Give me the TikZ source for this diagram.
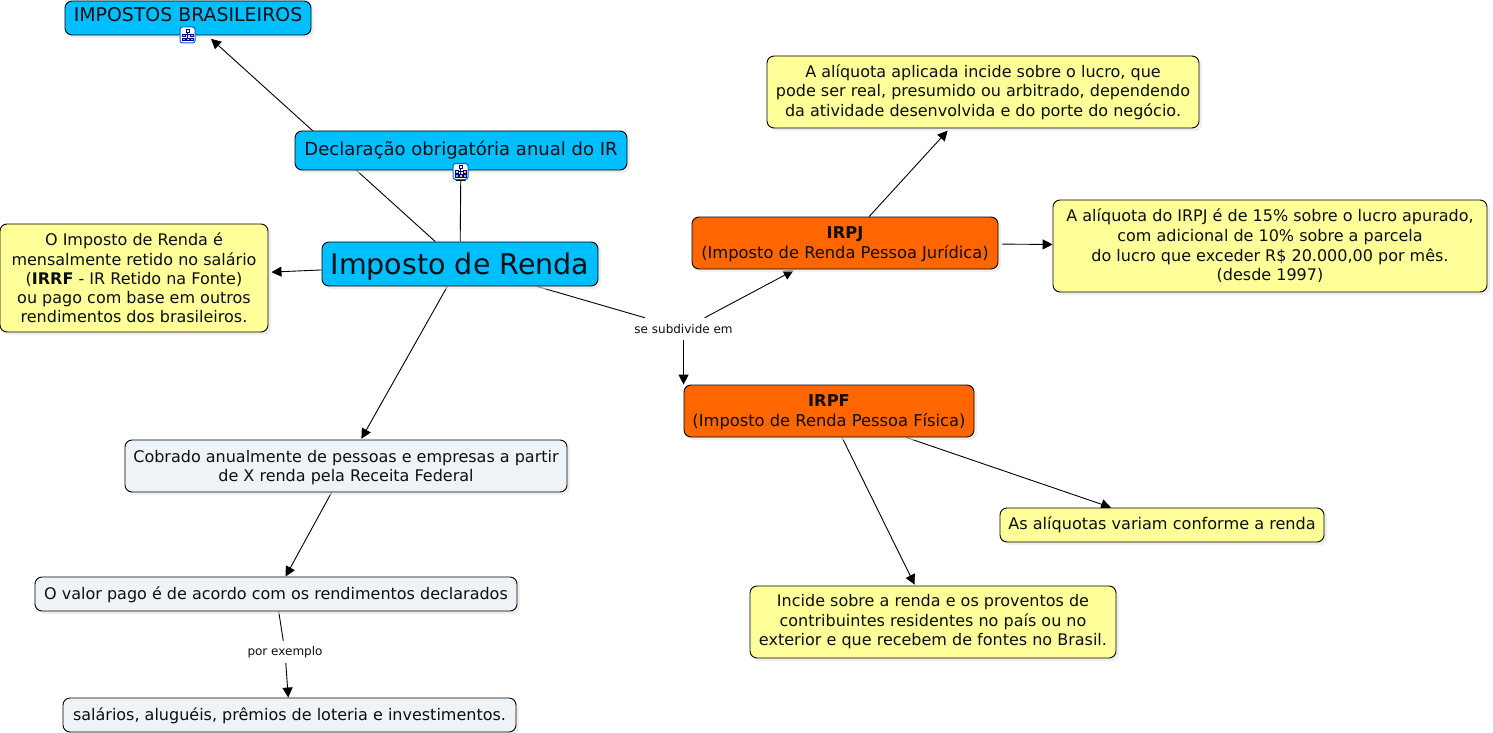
\documentclass[tikz,border=0pt]{standalone}
\usepackage{fontspec}
\setmainfont{DejaVu Sans}
\usetikzlibrary{shadows,arrows.meta}
\definecolor{cblue}{HTML}{00BFFF}
\definecolor{corange}{HTML}{FF6600}
\definecolor{cyellow}{HTML}{FFFF99}
\definecolor{cpale}{HTML}{EDF3F6}
\definecolor{ctext}{HTML}{0A1014}
\newcommand{\fs}[1]{\fontsize{#1}{#1}\selectfont}
\newcommand{\lowered}{\rule{0pt}{15pt}}
\pgfdeclarelayer{connectors}
\pgfsetlayers{connectors,main}
\tikzset{
  x=1pt,y=-1pt,
  concept/.style={draw=black,line width=0.9pt,rounded corners=7pt,align=center,inner sep=0pt,text=ctext,
    drop shadow={shadow xshift=3pt,shadow yshift=-3pt,fill=black!10,opacity=0.6}},
  blue box/.style={concept,fill=cblue},
  orange box/.style={concept,fill=corange},
  yellow box/.style={concept,fill=cyellow},
  pale box/.style={concept,fill=cpale},
  linkword/.style={fill=white,inner sep=0pt,align=center,font=\fs{12},text=ctext},
  conn/.style={line width=0.9pt,draw=black,-{Triangle[length=10pt,width=10pt]}},
  plain conn/.style={line width=0.9pt,draw=black},
  iconbox/.style={draw=blue!55!cyan!85!black,fill=white,rounded corners=2.5pt,line width=1pt,minimum width=15pt,minimum height=16pt,inner sep=0pt},
}
\newcommand{\hierarchyicon}[2]{%
  \node[iconbox] (#2) at (#1) {};
  \begin{scope}[shift={(#1)},line width=0.5pt,draw=blue!50!black]
    \draw (0,-3) -- (0,3) (-3.8,-0.5) -- (3.8,-0.5) (-3.8,-0.5)--(-3.8,2) (3.8,-0.5)--(3.8,2);
    \draw[fill=white] (-1.7,-5.8) rectangle (1.7,-3);
    \draw[fill=cblue!40] (-5.4,-1) rectangle (-2.4,1.6);
    \draw[fill=yellow!70!orange] (2.4,-1) rectangle (5.4,1.6);
    \draw[fill=blue!35] (-5.4,2.8) rectangle (-2.4,5.6);
    \draw[fill=yellow!70!orange] (-1.5,2.8) rectangle (1.5,5.6);
    \draw[fill=blue!35] (2.4,2.8) rectangle (5.4,5.6);
  \end{scope}}
\begin{document}
\begin{tikzpicture}
\useasboundingbox (0,0) rectangle (1493,733);
% boxes
\node[blue box,minimum width=246pt,minimum height=34pt,font=\fs{18.9},text height=14pt,text depth=6pt] (impostos) at (188,18) {IMPOSTOS BRASILEIROS};
\node[blue box,minimum width=332pt,minimum height=39pt,font=\fs{18}] (decl) at (461,150.5) {Declaração obrigatória anual do IR};
\node[blue box,minimum width=276pt,minimum height=44pt,font=\fs{28.5},text height=24pt,text depth=3pt] (ir) at (460,264) {Imposto de Renda};
\node[yellow box,minimum width=268pt,minimum height=108pt,font=\fs{16}] (retido) at (134,278) {O Imposto de Renda é\\[3pt]mensalmente retido no salário\hspace{5pt}\\[3pt](\textbf{IRRF} - IR Retido na Fonte)\\[3pt]ou pago com base em outros\\[3pt]rendimentos dos brasileiros.};
\node[yellow box,minimum width=432pt,minimum height=72pt,font=\fs{16}] (lucro) at (983,92) {A alíquota aplicada incide sobre o lucro, que\\[3pt]pode ser real, presumido ou arbitrado, dependendo\\[3pt]da atividade desenvolvida e do porte do negócio.};
\node[yellow box,minimum width=434pt,minimum height=92pt,font=\fs{16}] (irpjrate) at (1270,246) {A alíquota do IRPJ é de 15\% sobre o lucro apurado,\\[3.5pt]com adicional de 10\% sobre a parcela\\[3.5pt]do lucro que exceder R\$ 20.000,00 por mês.\\[3pt](desde 1997)};
\node[orange box,minimum width=306pt,minimum height=52pt,font=\fs{16.3}] (irpj) at (845,243) {\lowered\textbf{IRPJ}\\[3.5pt](Imposto de Renda Pessoa Jurídica)};
\node[orange box,minimum width=290pt,minimum height=52pt,font=\fs{16.3}] (irpf) at (829,411) {\lowered\textbf{IRPF}\\[3.5pt](Imposto de Renda Pessoa Física)};
\node[pale box,minimum width=442pt,minimum height=52pt,font=\fs{16}] (cobrado) at (346,466) {\lowered Cobrado anualmente de pessoas e empresas a partir\\[3pt]de X renda pela Receita Federal};
\node[pale box,minimum width=482pt,minimum height=34pt,font=\fs{16},text height=15pt,text depth=4pt] (valor) at (276,594) {O valor pago é de acordo com os rendimentos declarados};
\node[pale box,minimum width=453pt,minimum height=34pt,font=\fs{16},text height=15pt,text depth=4pt] (salarios) at (289.5,715) {salários, aluguéis, prêmios de loteria e investimentos.};
\node[yellow box,minimum width=324pt,minimum height=34pt,font=\fs{16.1}] (aliq) at (1162,525) {As alíquotas variam conforme a renda};
\node[yellow box,minimum width=366pt,minimum height=72pt,font=\fs{16}] (incide) at (933,622) {Incide sobre a renda e os proventos de\\[3pt]contribuintes residentes no país ou no\\[3pt]exterior e que recebem de fontes no Brasil.};
\node[linkword,minimum width=108pt,minimum height=22pt] (sub) at (683.55,329) {se subdivide em};
\node[linkword,minimum width=84pt,minimum height=22pt] (ex) at (285,652) {por exemplo};
% connectors, behind the boxes
\begin{pgfonlayer}{connectors}
\draw[conn,shorten >=5pt] (ir) -- (impostos);
\draw[conn,shorten >=0.5pt] (ir) -- (decl);
\draw[conn,shorten >=3pt] (ir) -- (retido);
\draw[conn,shorten >=1pt] (ir) -- (cobrado);
\draw[plain conn] (ir) -- (sub);
\draw[conn,shorten >=2pt] (sub) -- (irpj);
\draw[conn] (sub) -- (irpf.north west);
\draw[conn,shorten >=3pt] (irpj) -- (lucro);
\draw[conn,shorten <=4pt] (irpj) -- (irpjrate);
\draw[conn] (irpf) -- (aliq);
\draw[conn,shorten >=1pt] (irpf) -- (incide);
\draw[conn] (cobrado) -- (valor);
\draw[plain conn] (valor) -- (ex);
\draw[conn] (ex) -- (salarios);
\end{pgfonlayer}
\hierarchyicon{187.5,35}{icona}
\hierarchyicon{460.5,171.5}{iconb}
\end{tikzpicture}
\end{document}
